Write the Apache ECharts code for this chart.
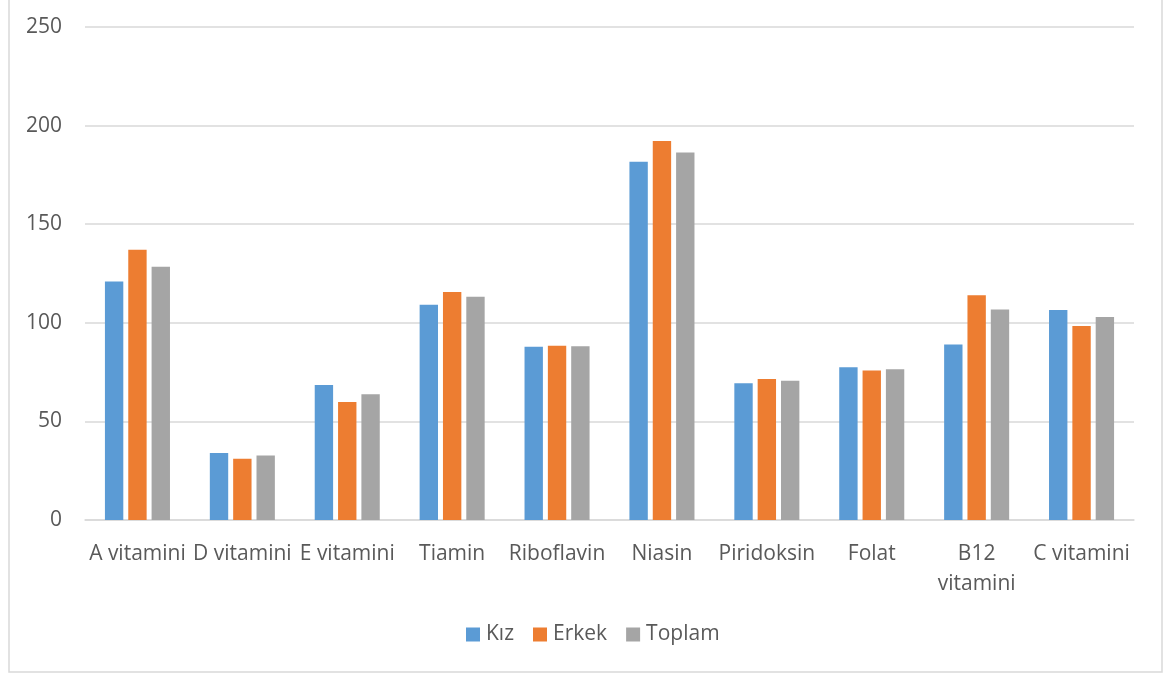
<!DOCTYPE html>
<html>
<head>
<meta charset="utf-8">
<style>
  html, body { margin: 0; padding: 0; background: #fff; }
  #chart { width: 1165px; height: 673px; }
</style>
<script src="https://cdn.jsdelivr.net/npm/echarts@6/dist/echarts.min.js"></script>
</head>
<body>
<div id="chart"></div>
<script>
// Vitamin intake by group
const categories = ['A vitamini', 'D vitamini', 'E vitamini', 'Tiamin', 'Riboflavin',
                    'Niasin', 'Piridoksin', 'Folat', 'B12 vitamini', 'C vitamini'];
const kiz    = [121, 34, 68.4, 109.1, 87.8, 181.7, 69.4, 77.4, 89, 106.5];
const erkek  = [137, 31, 59.9, 115.6, 88.3, 192.2, 71.5, 75.8, 114, 98.4];
const toplam = [128.4, 32.7, 63.8, 113.2, 88.1, 186.3, 70.6, 76.4, 106.8, 102.9];
const seriesNames = ['Kız', 'Erkek', 'Toplam'];
const colors = ['#5b9bd5', '#ed7d31', '#a5a5a5'];

const textColor = '#595959';
const fontFamily = '"Open Sans", "DejaVu Sans", sans-serif';
const fontSize = 21;

const chart = echarts.init(document.getElementById('chart'), null, { renderer: 'canvas' });

const mk = (name, data, color) => ({
  name, type: 'bar', data,
  itemStyle: { color },
  barGap: '27%', barCategoryGap: '38%',
  animation: false
});

chart.setOption({
  animation: false,
  backgroundColor: '#ffffff',
  color: colors,
  grid: { left: 85, right: 31, top: 27, bottom: 153, containLabel: false },
  legend: {
    bottom: 23, left: 461, padding: 5,
    itemWidth: 14, itemHeight: 14, itemGap: 19,
    icon: 'rect',
    textStyle: { color: textColor, fontFamily, fontSize, padding: [0, 0, 0, 1] },
    data: seriesNames
  },
  xAxis: {
    type: 'category',
    data: categories,
    axisLine: { lineStyle: { color: '#d9d9d9', width: 1.5 } },
    axisTick: { show: false },
    axisLabel: {
      color: textColor, fontFamily, fontSize, margin: 19, lineHeight: 30,
      interval: 0,
      formatter: v => v === 'B12 vitamini' ? 'B12\nvitamini' : v
    }
  },
  yAxis: {
    type: 'value', min: 0, max: 250, interval: 50,
    axisLine: { show: false },
    axisTick: { show: false },
    splitLine: { lineStyle: { color: '#d9d9d9', width: 1.5 } },
    axisLabel: { color: textColor, fontFamily, fontSize, margin: 23 }
  },
  graphic: [{
    type: 'rect', silent: true, z: -1,
    shape: { x: 9, y: -2, width: 1153, height: 674 },
    style: { fill: 'none', stroke: '#d9d9d9', lineWidth: 1.5 }
  }],
  series: [
    mk(seriesNames[0], kiz, colors[0]),
    mk(seriesNames[1], erkek, colors[1]),
    mk(seriesNames[2], toplam, colors[2])
  ]
});
</script>
</body>
</html>
